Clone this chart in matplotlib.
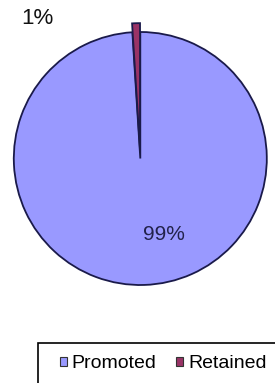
import matplotlib
matplotlib.use("Agg")
import matplotlib.pyplot as plt
from matplotlib.patches import Patch, Rectangle

categories = ["Promoted", "Retained"]
values = [99, 1]
colors = ["#9999FF", "#993366"]

plt.rcParams['font.family'] = ['Liberation Sans', 'DejaVu Sans']

W, H = 275, 383
fig = plt.figure(figsize=(W / 100, H / 100), dpi=100)
ax = fig.add_axes([0, 0, 1, 1])
R = 126.5
cx, cy = 140.3, 158.5  # pixel center (from top)

wedges, _ = ax.pie(values, colors=colors, startangle=90, counterclock=False,
                   explode=[0, 0.07], radius=1,
                   wedgeprops=dict(edgecolor="#1a1a4a", linewidth=1.3))
ax.set_xlim(-cx / R, (W - cx) / R)
ax.set_ylim(-(H - cy) / R, cy / R)
ax.set_aspect('auto')
ax.axis('off')

total = sum(values)
pcts = [f"{round(v / total * 100)}%" for v in values]
ax.text((164 - cx) / R, (cy - 234.5) / R, pcts[0], fontsize=15, ha='center', va='center', color='#22224a')
ax.text((37.5 - cx) / R, (cy - 19) / R, pcts[1], fontsize=16, ha='center', va='center', color='#111111')

# legend frame
fig.patches.append(Rectangle((38 / W, -0.05), 1.0, 1 - 343 / H + 0.05,
                             transform=fig.transFigure, facecolor='white',
                             edgecolor='black', linewidth=1.2, zorder=2))

handles = [Patch(facecolor=c, edgecolor='#333333', linewidth=0.8) for c in colors]
leg = fig.legend(handles, categories, loc='center left',
                 bbox_to_anchor=(60 / W, 1 - 364 / H),
                 ncol=2, frameon=False, fontsize=14,
                 handlelength=0.36, handleheight=0.36, handletextpad=0.25,
                 columnspacing=1.0, borderpad=0, borderaxespad=0)
leg.set_zorder(3)

fig.savefig("out.png", dpi=100, facecolor='white')
